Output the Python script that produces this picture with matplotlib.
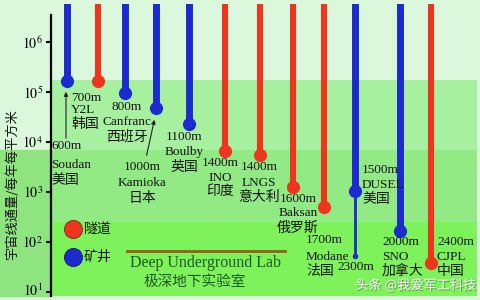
import matplotlib
matplotlib.use('Agg')
import matplotlib.pyplot as plt
import matplotlib.patheffects as pe
import matplotlib.transforms as mtransforms
from matplotlib.patches import Rectangle, FancyArrowPatch

# ---------------- data ----------------
sites = ['Soudan', 'Y2L', 'Canfranc', 'Kamioka', 'Boulby', 'INO', 'LNGS',
         'Baksan', 'Modane', 'DUSEL', 'SNO', 'CJPL']
countries = ['美国', '韩国', '西班牙', '日本', '英国', '印度', '意大利',
             '俄罗斯', '法国', '美国', '加拿大', '中国']
depths = ['600m', '700m', '800m', '1000m', '1100m', '1400m', '1400m',
          '1600m', '1700m', '1500m', '2000m', '2400m']
kinds = ['mine', 'tunnel', 'mine', 'mine', 'mine', 'tunnel', 'tunnel',
         'tunnel', 'tunnel', 'mine', 'mine', 'tunnel']
flux = [1.66e5, 1.66e5, 9.5e4, 4.8e4, 2.3e4, 6.6e3, 5.5e3,
        1.26e3, 5.0e2, 1.05e3, 1.66e2, 3.8e1]
site_pos = [0, 0.95, 1.8, 2.75, 3.75, 4.85, 5.95, 6.95, 7.9, 8.85, 10.25, 11.2]
dusel_deep_label = '2300m'
dusel_deep_flux = 52
yticks = [1e1, 1e2, 1e3, 1e4, 1e5, 1e6]
ytick_labels = [r'$10^{1}$', r'$10^{2}$', r'$10^{3}$', r'$10^{4}$', r'$10^{5}$', r'$10^{6}$']
legend_labels = {'tunnel': '隧道', 'mine': '矿井'}
ylabel = '宇宙线通量/每年每平方米'
lab_en = 'Deep Underground Lab'
lab_zh = '极深地下实验室'
watermark = '头条 @我爱军工科技'

# ---------------- style ----------------
plt.rcParams['mathtext.fontset'] = 'stix'
W, H = 481, 300
colors = {'tunnel': '#ee3520', 'mine': '#1c2bd0'}
FAM = ['Liberation Serif', 'Noto Sans CJK SC']
CJK = ['Noto Sans CJK SC', 'DejaVu Sans']

fig = plt.figure(figsize=(W / 100, H / 100), dpi=100)
fig.patch.set_facecolor('#dcf8dc')


def fx(x):
    return x / W


def fy(y):
    return 1 - y / H


# axes spanning pixel x 51..477, y 4..296
ax = fig.add_axes([fx(51), fy(296), fx(477) - fx(51), fy(4) - fy(296)])
ax.set_zorder(2)
ax.set_facecolor('none')
ax.set_yscale('log')
ax.set_ylim(10 ** 0.92, 10 ** 6.76)
ax.set_xlim(-0.492, 12.615)

# left margin green block (behind everything)
fig.patches.append(Rectangle((0, fy(296)), fx(51), fy(150) - fy(296),
                             transform=fig.transFigure, color='#8ee47e', zorder=-5))

# background bands (data coords)
ax.axhspan(10 ** 3.84, 10 ** 5.24, color='#a6f0a0', zorder=0, lw=0)
ax.axhspan(10 ** 2.4, 10 ** 3.84, color='#92ea84', zorder=0, lw=0)
ax.axhspan(10 ** 0.92, 10 ** 2.4, color='#7ef25a', zorder=0, lw=0)

# bars
for x, v, k in zip(site_pos, flux, kinds):
    lw = 5.0 if k == 'mine' else 4.4
    ax.vlines(x, v, 1e8, color=colors[k], lw=lw, zorder=3, capstyle='butt')
    ax.plot([x], [v], 'o', ms=9.5, color=colors[k], mec='none', zorder=4)

# DUSEL deeper extension
di = sites.index('DUSEL')
ax.vlines(site_pos[di], dusel_deep_flux, flux[di], color=colors['mine'], lw=2.0, zorder=3)
ax.plot([site_pos[di]], [dusel_deep_flux], 'o', ms=4, color=colors['mine'], mec='none', zorder=4)

# axis styling
for s in ['top', 'right', 'bottom']:
    ax.spines[s].set_visible(False)
ax.spines['left'].set_linewidth(1.6)
ax.spines['left'].set_bounds(10 ** 0.92, 10 ** 6.54)
ax.set_xticks([])
ax.set_yticks(yticks)
ax.set_yticklabels(ytick_labels)
ax.minorticks_off()
ax.tick_params(axis='y', which='major', length=3.8, width=1.5, direction='out',
               labelsize=10, pad=2, colors='black')
# nudge the lowest tick label up so it stays inside the canvas
lowest = ax.get_yticklabels()[0]
lowest.set_transform(lowest.get_transform() +
                     mtransforms.ScaledTranslation(0, 3 / 100, fig.dpi_scale_trans))

# site labels: (x, ha, y_depth, y_site, y_country)
layout = {
    'Soudan': (51, 'left', 146, 165, 180),
    'Y2L': (71, 'left', 98, 110, 124),
    'Canfranc': (127, 'center', 107, 122, 137),
    'Kamioka': (142, 'center', 167, 183, 198),
    'Boulby': (184, 'center', 137, 152, 167),
    'INO': (220, 'center', 163, 178, 191),
    'LNGS': (259, 'center', 167, 183, 197),
    'Baksan': (298, 'center', 199, 213, 228),
    'Modane': (306, 'left', 240, 257, 271),
    'DUSEL': (362, 'left', 170, 185, 199),
    'SNO': (382, 'left', 242, 257, 271),
    'CJPL': (437, 'left', 242, 257, 271),
}
tc = '#141414'
for name, dep, ctry in zip(sites, depths, countries):
    x, ha, y1, y2, y3 = layout[name]
    fig.text(fx(x), fy(y1), dep, ha=ha, va='center', fontsize=9.5, family=FAM, color=tc, zorder=5)
    fig.text(fx(x), fy(y2), name, ha=ha, va='center', fontsize=9.5, family=FAM, color=tc, zorder=5)
    fig.text(fx(x), fy(y3), ctry, ha=ha, va='center', fontsize=10, family=CJK, color=tc, zorder=5)
fig.text(fx(337), fy(267), dusel_deep_label, ha='left', va='center', fontsize=9.5,
         family=FAM, color=tc, zorder=5)

# arrows
arrow_kw = dict(arrowstyle='-|>', color='#222222', lw=0.8, mutation_scale=6, zorder=5)
fig.add_artist(FancyArrowPatch((fx(66), fy(141)), (fx(66), fy(89)),
                               transform=fig.transFigure, **arrow_kw))
fig.add_artist(FancyArrowPatch((fx(146), fy(158)), (fx(155), fy(117)),
                               transform=fig.transFigure, **arrow_kw))

# legend
for (k, yy) in [('tunnel', 229), ('mine', 257)]:
    fig.add_artist(plt.Line2D([fx(73)], [fy(yy)], marker='o', ms=13, color=colors[k],
                              mec='#6a3020' if k == 'tunnel' else '#101860', mew=0.6,
                              transform=fig.transFigure, zorder=5))
    fig.text(fx(84), fy(yy), legend_labels[k], ha='left', va='center', fontsize=10,
             family=CJK, color=tc, zorder=5)

# deep underground lab
fig.add_artist(plt.Line2D([fx(127), fx(285)], [fy(251), fy(251)], color='#9a5b1c', lw=2.0,
                          transform=fig.transFigure, zorder=5))
fig.text(fx(206), fy(263), lab_en, ha='center', va='center', fontsize=11.5,
         family=FAM, color='#1e5a22', zorder=5)
fig.text(fx(195), fy(282), lab_zh, ha='center', va='center', fontsize=10.5,
         family=CJK, color='#1e5a22', zorder=5)

# y label
fig.text(fx(12), fy(185), ylabel, rotation=90, ha='center', va='center', fontsize=9.5,
         family=CJK, color=tc, zorder=5)

# watermark
fig.text(fx(416), fy(285), watermark, ha='center', va='center', fontsize=9.5, family=CJK,
         color='white', alpha=0.95, zorder=6,
         path_effects=[pe.withSimplePatchShadow(offset=(0.8, -0.8), shadow_rgbFace='#555555', alpha=0.6)])

fig.savefig('out.png', dpi=100, facecolor=fig.get_facecolor())
